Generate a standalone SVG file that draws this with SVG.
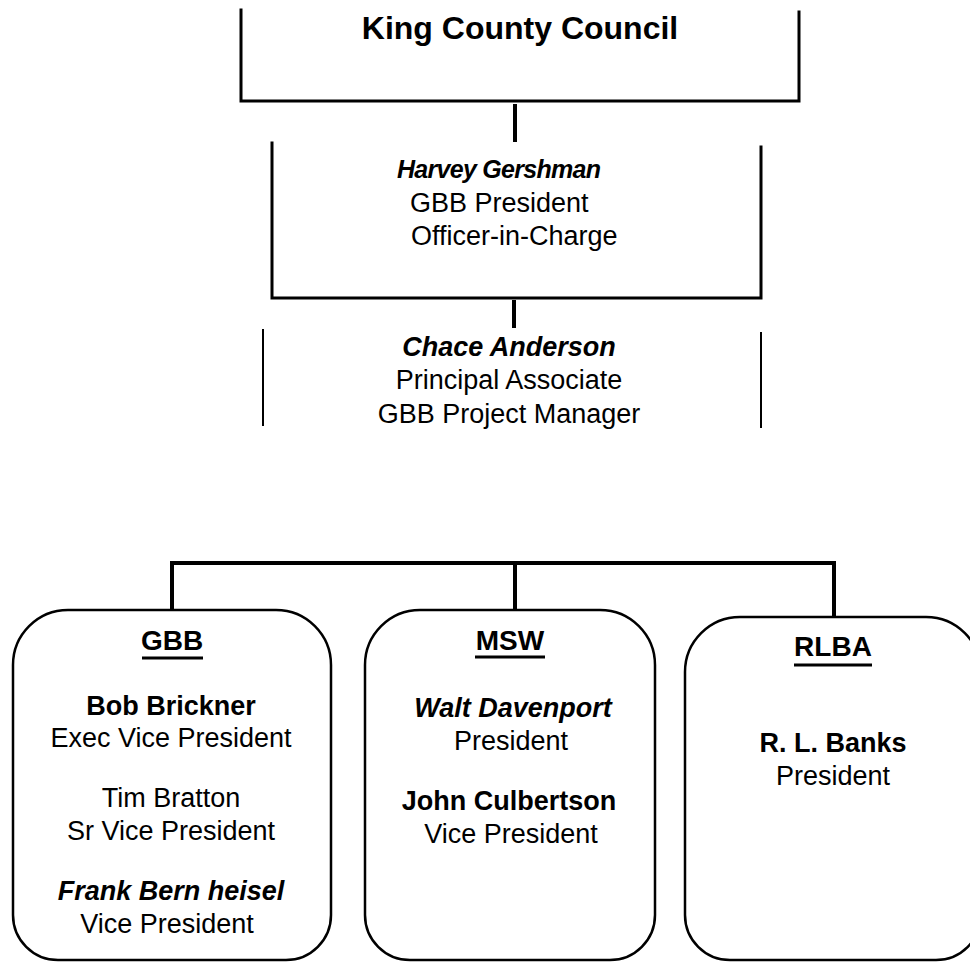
<svg xmlns="http://www.w3.org/2000/svg" width="970" height="964" viewBox="0 0 970 964">
<style>
  text { font-family: "Liberation Sans", Arial, sans-serif; fill: #000; }
  .r { font-size: 27px; }
  .b { font-size: 27px; font-weight: bold; }
  .bi { font-size: 27px; font-weight: bold; font-style: italic; }
  .lbl { font-size: 28px; font-weight: bold; }
  .m { text-anchor: middle; }
  .edge { fill: none; stroke: #000; stroke-width: 3; stroke-linecap: square; }
  .thin { fill: none; stroke: #000; stroke-width: 2; }
  .box { fill: #fff; stroke: #000; stroke-width: 2.5; }
  .conn { fill: none; stroke: #000; stroke-width: 4; }
  .ul { stroke: #000; stroke-width: 3; }
</style>
<rect width="970" height="964" fill="#fff"/>

<g id="connectors">
  <line class="conn" x1="515" y1="104" x2="515" y2="142"/>
  <line class="conn" x1="514" y1="300" x2="514" y2="328"/>
  <polyline class="conn" points="172,610 172,563 834,563 834,617"/>
  <line class="conn" x1="515" y1="563" x2="515" y2="610"/>
</g>

<g id="king-county-council">
  <polyline class="edge" points="241,10 241,101 799,101 799,12"/>
  <text class="m" x="520" y="39" style="font-size:32px;font-weight:bold">King County Council</text>
</g>

<g id="harvey-gershman">
  <polyline class="edge" points="272,143 272,298 761,298 761,147"/>
  <text class="bi" x="397" y="178" style="font-size:25px" textLength="204">Harvey Gershman</text>
  <text class="r" x="410" y="212">GBB President</text>
  <text class="r" x="411" y="245">Officer-in-Charge</text>
</g>

<g id="chace-anderson">
  <line class="thin" x1="263" y1="329" x2="263" y2="426"/>
  <line class="thin" x1="761" y1="332" x2="761" y2="428"/>
  <text class="bi m" x="509" y="356">Chace Anderson</text>
  <text class="r m" x="509" y="389">Principal Associate</text>
  <text class="r m" x="509" y="423">GBB Project Manager</text>
</g>

<g id="gbb">
  <path class="box" d="M13 665 A55 55 0 0 1 68 610 L276 610 A55 55 0 0 1 331 665 L331 915 A45 45 0 0 1 286 960 L58 960 A45 45 0 0 1 13 915 Z"/>
  <text class="lbl m" x="172" y="650">GBB</text>
  <line class="ul" x1="142" y1="658" x2="203" y2="658"/>
  <text class="b m" x="171" y="715">Bob Brickner</text>
  <text class="r m" x="171" y="747">Exec Vice President</text>
  <text class="r m" x="171" y="807">Tim Bratton</text>
  <text class="r m" x="171" y="840">Sr Vice President</text>
  <text class="bi m" x="171" y="900">Frank Bern heisel</text>
  <text class="r m" x="167" y="933">Vice President</text>
</g>

<g id="msw">
  <path class="box" d="M365 665 A55 55 0 0 1 420 610 L600 610 A55 55 0 0 1 655 665 L655 915 A45 45 0 0 1 610 960 L410 960 A45 45 0 0 1 365 915 Z"/>
  <text class="lbl m" x="510" y="650">MSW</text>
  <line class="ul" x1="475" y1="657" x2="545" y2="657"/>
  <text class="bi m" x="513" y="717">Walt Davenport</text>
  <text class="r m" x="511" y="750">President</text>
  <text class="b m" x="509" y="810">John Culbertson</text>
  <text class="r m" x="511" y="843">Vice President</text>
</g>

<g id="rlba">
  <path class="box" d="M685 672 A55 55 0 0 1 740 617 L926 617 A55 55 0 0 1 981 672 L981 915 A45 45 0 0 1 936 960 L730 960 A45 45 0 0 1 685 915 Z"/>
  <text class="lbl m" x="833" y="656">RLBA</text>
  <line class="ul" x1="794" y1="665" x2="872" y2="665"/>
  <text class="b m" x="833" y="752">R. L. Banks</text>
  <text class="r m" x="833" y="785">President</text>
</g>
</svg>
